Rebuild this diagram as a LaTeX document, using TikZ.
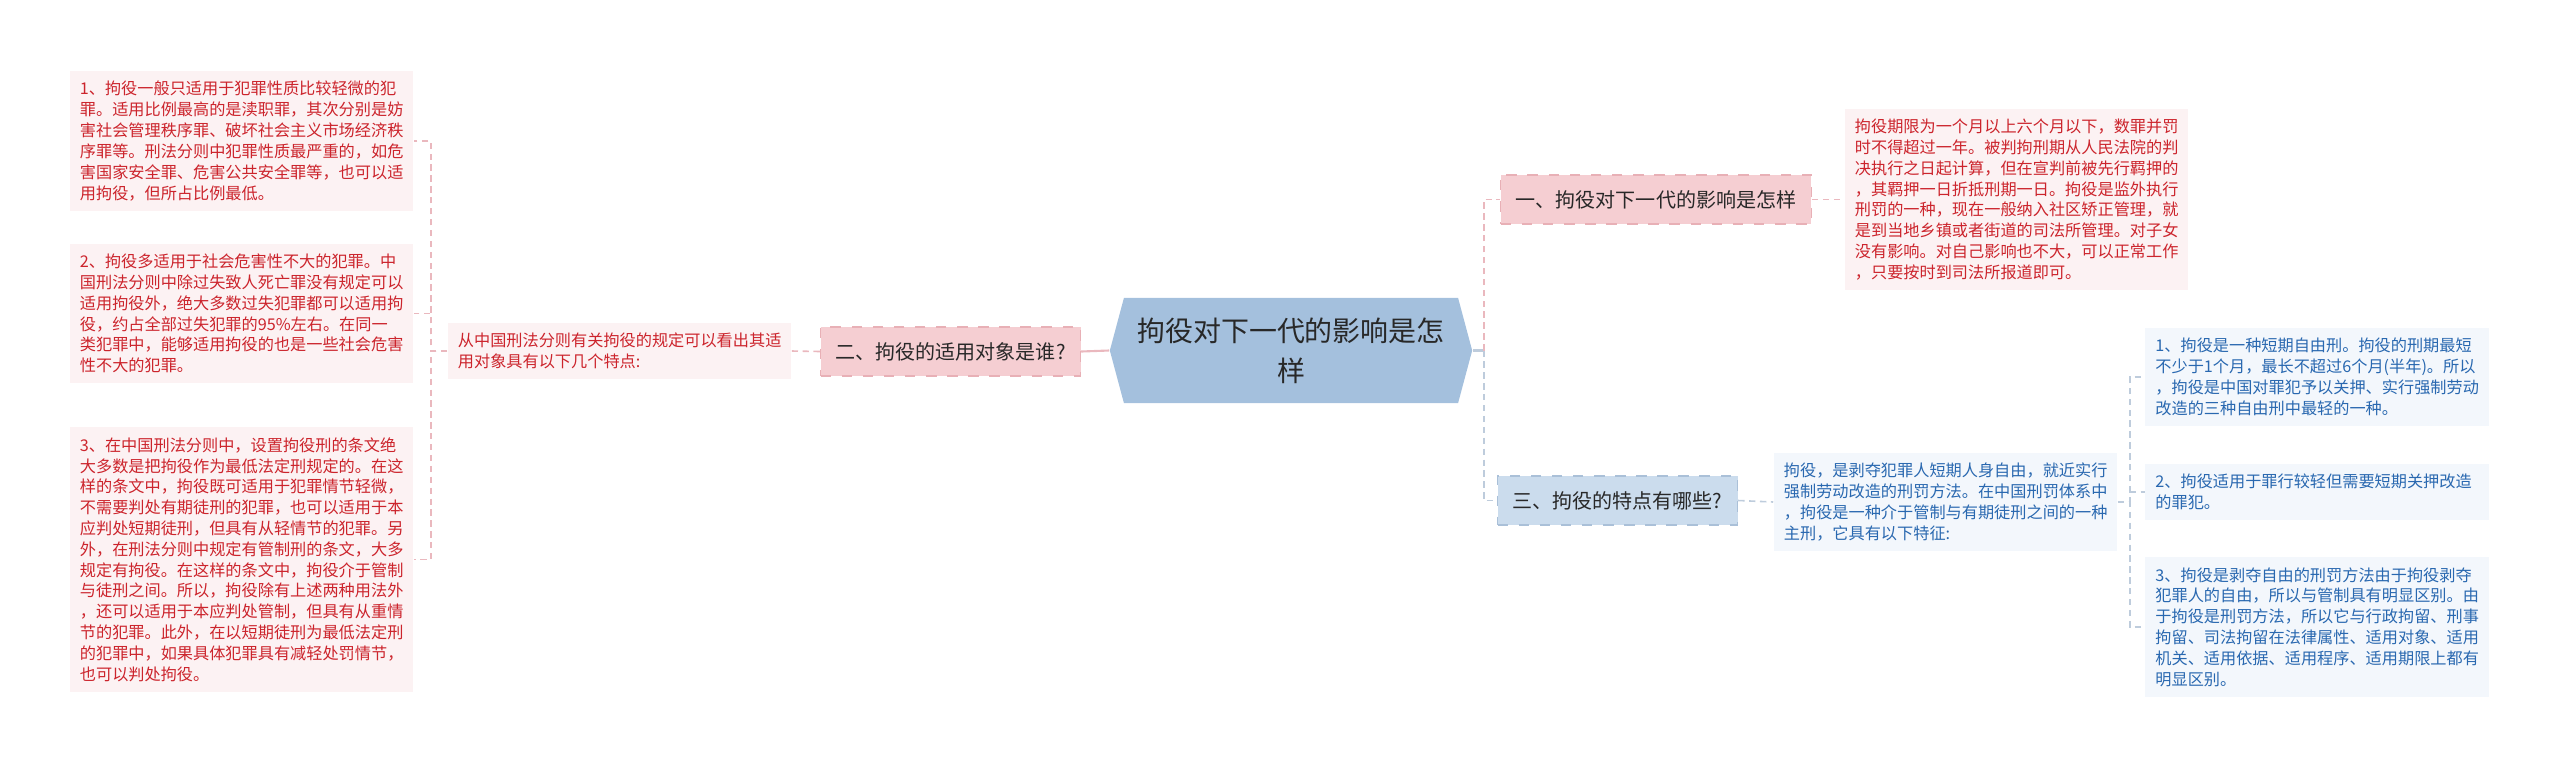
\documentclass[tikz,border=0pt]{standalone}
\usepackage{fontspec}
\setmainfont{Noto Sans CJK SC}
\usetikzlibrary{shapes.symbols}
\definecolor{leafred}{RGB}{204,36,44}
\definecolor{redleafbg}{RGB}{252,242,243}
\definecolor{leafblue}{RGB}{41,104,176}
\definecolor{blueleafbg}{RGB}{243,247,252}
\definecolor{redtopicbg}{RGB}{245,206,210}
\definecolor{redtopicline}{RGB}{232,176,182}
\definecolor{bluetopicbg}{RGB}{203,220,237}
\definecolor{bluetopicline}{RGB}{170,192,216}
\definecolor{rootbg}{RGB}{164,192,221}
\definecolor{topictext}{RGB}{40,40,40}
\definecolor{redlinkcol}{RGB}{234,184,190}
\definecolor{bluelinkcol}{RGB}{190,204,220}
\newcommand\leaffont{\fontsize{4.6pt}{5.92pt}\selectfont}
\newcommand\topicfont{\fontsize{5.7pt}{6.8pt}\selectfont}
\newcommand\rootfont{\fontsize{7.95pt}{11.4pt}\selectfont}
\begin{document}
\begin{tikzpicture}[x=0.01cm,y=-0.01cm,
    redleaf/.style={fill=redleafbg,text=leafred,text width=32.3mm,inner xsep=1mm,inner ysep=1mm,align=left,font=\leaffont},
    blueleaf/.style={redleaf,fill=blueleafbg,text=leafblue},
    redtopic/.style={fill=redtopicbg,draw=redtopicline,dashed,text=topictext,font=\topicfont,inner xsep=1.5mm,minimum height=4.9mm},
    bluetopic/.style={redtopic,fill=bluetopicbg,draw=bluetopicline},
    redlink/.style={draw=redlinkcol,line width=0.45pt,dash pattern=on 1.8pt off 1.3pt},
    bluelink/.style={redlink,draw=bluelinkcol}]
  \useasboundingbox (0,0) rectangle (2560,769);
  % centre
  \node[shape=signal,signal to=east and west,signal pointer angle=150,fill=rootbg,text=topictext,font=\rootfont,
        align=center,text width=31mm,inner xsep=1.2mm,minimum height=10.5mm] (root) at (1291,350.5) {拘役对下一代的影响是怎\\样};
  % left branch
  \node[redtopic] (q2) at (950.5,351.5) {二、拘役的适用对象是谁?};
  \node[redleaf] (m) at (619.5,351) {从中国刑法分则有关拘役的规定可以看出其适\\用对象具有以下几个特点:};
  \node[redleaf] (l1) at (241.5,141) {1、拘役一般只适用于犯罪性质比较轻微的犯\\罪。适用比例最高的是渎职罪，其次分别是妨\\害社会管理秩序罪、破坏社会主义市场经济秩\\序罪等。刑法分则中犯罪性质最严重的，如危\\害国家安全罪、危害公共安全罪等，也可以适\\用拘役，但所占比例最低。};
  \node[redleaf] (l2) at (241.5,313.5) {2、拘役多适用于社会危害性不大的犯罪。中\\国刑法分则中除过失致人死亡罪没有规定可以\\适用拘役外，绝大多数过失犯罪都可以适用拘\\役，约占全部过失犯罪的95\%左右。在同一\\类犯罪中，能够适用拘役的也是一些社会危害\\性不大的犯罪。};
  \node[redleaf] (l3) at (241.5,559.5) {3、在中国刑法分则中，设置拘役刑的条文绝\\大多数是把拘役作为最低法定刑规定的。在这\\样的条文中，拘役既可适用于犯罪情节轻微，\\不需要判处有期徒刑的犯罪，也可以适用于本\\应判处短期徒刑，但具有从轻情节的犯罪。另\\外，在刑法分则中规定有管制刑的条文，大多\\规定有拘役。在这样的条文中，拘役介于管制\\与徒刑之间。所以，拘役除有上述两种用法外\\，还可以适用于本应判处管制，但具有从重情\\节的犯罪。此外，在以短期徒刑为最低法定刑\\的犯罪中，如果具体犯罪具有减轻处罚情节，\\也可以判处拘役。};
  % right branch
  \node[redtopic] (q1) at (1656,199.5) {一、拘役对下一代的影响是怎样};
  \node[redleaf] (q1txt) at (2016.5,199.5) {拘役期限为一个月以上六个月以下，数罪并罚\\时不得超过一年。被判拘刑期从人民法院的判\\决执行之日起计算，但在宣判前被先行羁押的\\，其羁押一日折抵刑期一日。拘役是监外执行\\刑罚的一种，现在一般纳入社区矫正管理，就\\是到当地乡镇或者街道的司法所管理。对子女\\没有影响。对自己影响也不大，可以正常工作\\，只要按时到司法所报道即可。};
  \node[bluetopic] (q3) at (1617.5,500.5) {三、拘役的特点有哪些?};
  \node[blueleaf] (q3txt) at (1945.5,502) {拘役，是剥夺犯罪人短期人身自由，就近实行\\强制劳动改造的刑罚方法。在中国刑罚体系中\\，拘役是一种介于管制与有期徒刑之间的一种\\主刑，它具有以下特征:};
  \node[blueleaf] (r1) at (2317,377) {1、拘役是一种短期自由刑。拘役的刑期最短\\不少于1个月，最长不超过6个月(半年)。所以\\，拘役是中国对罪犯予以关押、实行强制劳动\\改造的三种自由刑中最轻的一种。};
  \node[blueleaf] (r2) at (2317,492) {2、拘役适用于罪行较轻但需要短期关押改造\\的罪犯。};
  \node[blueleaf] (r3) at (2317,627) {3、拘役是剥夺自由的刑罚方法由于拘役剥夺\\犯罪人的自由，所以与管制具有明显区别。由\\于拘役是刑罚方法，所以它与行政拘留、刑事\\拘留、司法拘留在法律属性、适用对象、适用\\机关、适用依据、适用程序、适用期限上都有\\明显区别。};
  % connectors
  \draw[draw=redlinkcol,line width=0.6pt] (root.west) -- (q2.east);
  \draw[redlink] (q2.west) -- (m.east);
  \draw[redlink] (m.west) -- ++(-16,0) |- (l1.east);
  \draw[redlink] (m.west) -- ++(-16,0) |- (l2.east);
  \draw[redlink] (m.west) -- ++(-16,0) |- (l3.east);
  \draw[draw=bluelinkcol,line width=0.6pt] (root.east) -- ++(11,0);
  \draw[redlink] (root.east) ++(11,0) |- (q1.west);
  \draw[bluelink] (root.east) ++(11,0) |- (q3.west);
  \draw[redlink] (q1.east) -- (q1txt.west);
  \draw[bluelink] (q3.east) -- (q3txt.west);
  \draw[bluelink] (q3txt.east) -- ++(12,0) |- (r1.west);
  \draw[bluelink] (q3txt.east) -- ++(12,0) |- (r2.west);
  \draw[bluelink] (q3txt.east) -- ++(12,0) |- (r3.west);
\end{tikzpicture}
\end{document}
